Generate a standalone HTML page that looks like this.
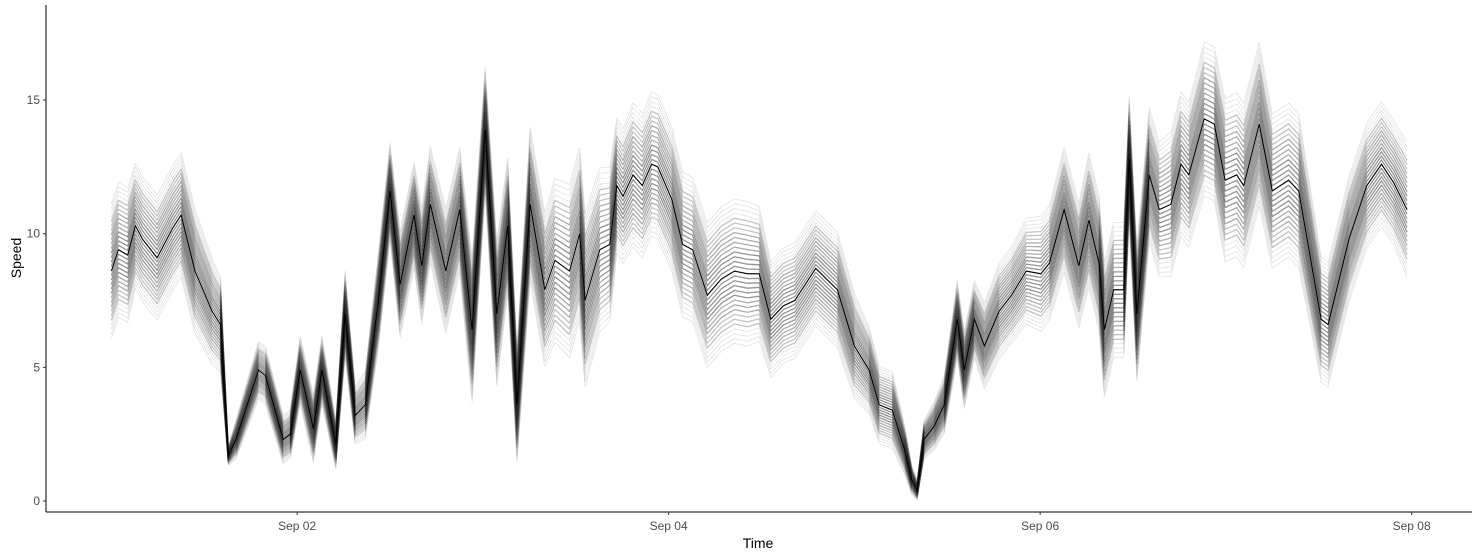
<!DOCTYPE html>
<html><head><meta charset="utf-8"><style>
html,body{margin:0;padding:0;background:#fff;}
svg{display:block;font-family:"Liberation Sans",sans-serif;}
</style></head><body>
<svg id="chart" width="1480" height="558">
<g id="plot"></g>
<line x1="46" y1="5" x2="46" y2="512" stroke="#000" stroke-width="1"/>
<line x1="46" y1="512" x2="1472" y2="512" stroke="#000" stroke-width="1"/>
<g id="axes"></g>
<text x="758" y="548" font-size="14" text-anchor="middle" fill="#000">Time</text>
<text x="21" y="258" font-size="14" text-anchor="middle" fill="#000" transform="rotate(-90 21 258)">Speed</text>
</svg>
<script>
const hours=[0,0.9,2.1,3.1,4,5.9,7.9,9,10.8,13,14.1,15.1,16.1,19,19.9,22.2,23.1,24.4,26.1,27.2,29,30.2,31.5,32.8,34.5,36,37.3,39.1,40.1,41.2,43.2,45,46.6,48.3,49.8,51.2,52.4,54.1,56,57.3,59.2,60.5,61.2,63.1,64.4,65.3,66.1,67.4,68.6,69.8,70.6,72.4,73.8,75.1,77,78.8,80.5,82.2,83.7,85.2,86.8,88.3,91,93.8,96,97.9,99.2,100.9,102.5,103.4,104.1,105,106.3,107.6,109.3,110.2,111.5,112.8,114.7,116.3,118.2,120.1,121.2,123.1,125,126.3,127.6,128.3,129.5,130.8,131.5,132.5,134.1,135.4,136.9,138.2,139.2,141.2,142.5,143.9,145.4,146.3,148.3,150,152.1,153.4,156.3,157.2,159.9,162.2,164.1,165.7,167.4];
const speed=[8.6,9.4,9.2,10.3,9.8,9.1,10.2,10.7,8.6,7.1,6.6,1.7,2.3,4.9,4.7,2.3,2.5,4.9,2.7,4.9,2.1,7.0,3.2,3.6,7.5,11.6,8.1,10.7,8.8,11.1,8.6,10.9,6.4,13.9,7.0,10.3,3.6,11.1,7.9,9.0,8.6,10.0,7.5,9.4,9.6,11.8,11.4,12.2,11.8,12.6,12.5,11.3,9.6,9.4,7.7,8.3,8.6,8.5,8.5,6.8,7.3,7.5,8.7,7.9,5.8,4.9,3.6,3.4,1.9,0.8,0.4,2.3,2.8,3.6,6.8,4.9,6.8,5.8,7.1,7.7,8.6,8.5,8.9,10.9,8.8,10.5,8.9,6.4,7.9,7.9,12.8,7.0,12.2,10.9,11.1,12.6,12.2,14.3,14.1,12.0,12.2,11.8,14.1,11.6,12.0,11.6,6.8,6.6,9.8,11.8,12.6,11.9,10.9];
const spread=[1.4,1.4,1.4,1.3,1.3,1.3,1.3,1.3,1.3,1.1,1.0,0.2,0.4,0.6,0.6,0.5,0.5,0.7,0.7,0.7,0.5,0.9,0.6,0.7,1.0,1.0,1.1,1.1,1.2,1.2,1.3,1.3,1.5,1.3,1.5,1.4,1.2,1.6,1.6,1.7,1.8,1.8,1.8,1.7,1.6,1.4,1.4,1.5,1.5,1.5,1.5,1.5,1.5,1.5,1.5,1.5,1.5,1.5,1.4,1.2,1.2,1.2,1.2,1.2,1.1,0.9,0.8,0.8,0.5,0.3,0.2,0.4,0.5,0.6,0.8,0.8,0.8,0.9,1.0,1.0,1.1,1.2,1.2,1.3,1.3,1.4,1.4,1.4,1.4,1.4,1.3,1.4,1.4,1.4,1.5,1.5,1.5,1.6,1.6,1.7,1.7,1.7,1.7,1.6,1.6,1.6,1.3,1.3,1.3,1.3,1.3,1.3,1.4];
const yTicks=[0,5,10,15];
const xTickHours=[24,72,120,168];
const xTickLabels=["Sep 02","Sep 04","Sep 06","Sep 08"];

const NS="http://www.w3.org/2000/svg";
const xS=h=>111.4+h*185.75/24;
const yS=v=>501-v*26.73;
const plot=document.getElementById('plot');
const axes=document.getElementById('axes');

const offsets=[];
for(let k=-1.8;k<=1.81;k+=0.12) offsets.push(k);
offsets.forEach(k=>{
  const p=document.createElementNS(NS,'path');
  const d=hours.map((h,i)=>(i?'L':'M')+xS(h).toFixed(1)+','+yS(speed[i]+k*spread[i]).toFixed(1)).join('');
  p.setAttribute('d',d);
  p.setAttribute('fill','none');
  const ak=Math.abs(k);
  const a=ak>1.4?0.12:(ak>1.0?0.25:(ak>0.6?0.35:0.45));
  p.setAttribute('stroke','rgba(20,20,20,'+a+')');
  p.setAttribute('stroke-width',ak>1.4?0.8:1.3);
  p.setAttribute('stroke-linejoin','round');
  
  
  plot.appendChild(p);
});
const m=document.createElementNS(NS,'path');
m.setAttribute('d',hours.map((h,i)=>(i?'L':'M')+xS(h).toFixed(1)+','+yS(speed[i]).toFixed(1)).join(''));
m.setAttribute('fill','none');
m.setAttribute('stroke','#000');
m.setAttribute('stroke-width','1');


plot.appendChild(m);

yTicks.forEach(v=>{
  const t=document.createElementNS(NS,'text');
  t.setAttribute('x',40);t.setAttribute('y',yS(v)+4);
  t.setAttribute('font-size','12');t.setAttribute('text-anchor','end');t.setAttribute('fill','#4d4d4d');
  t.textContent=v;
  
  
  axes.appendChild(t);
  const l=document.createElementNS(NS,'line');
  l.setAttribute('x1',43);l.setAttribute('x2',46);l.setAttribute('y1',yS(v));l.setAttribute('y2',yS(v));
  l.setAttribute('stroke','#333');
  
  
  axes.appendChild(l);
});
xTickHours.forEach((h,i)=>{
  const t=document.createElementNS(NS,'text');
  t.setAttribute('x',xS(h));t.setAttribute('y',530);
  t.setAttribute('font-size','12');t.setAttribute('text-anchor','middle');t.setAttribute('fill','#4d4d4d');
  t.textContent=xTickLabels[i];
  
  
  axes.appendChild(t);
  const l=document.createElementNS(NS,'line');
  l.setAttribute('x1',xS(h));l.setAttribute('x2',xS(h));l.setAttribute('y1',512);l.setAttribute('y2',515);
  l.setAttribute('stroke','#333');
  
  
  axes.appendChild(l);
});
</script>
</body></html>
